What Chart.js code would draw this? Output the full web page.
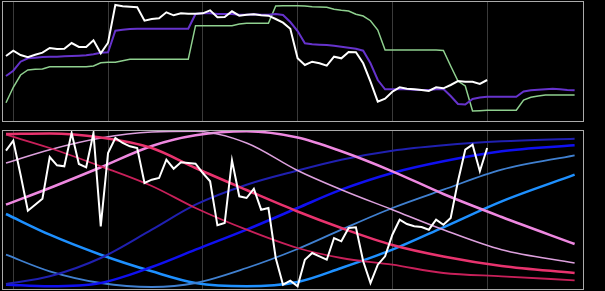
<!DOCTYPE html>
<html>
<head>
<meta charset="utf-8">
<script src="https://cdn.jsdelivr.net/npm/chart.js@4/dist/chart.umd.min.js"></script>
<style>
  html, body { margin: 0; padding: 0; background: #000; }
  body { width: 605px; height: 291px; position: relative; overflow: hidden; }
  .panel { position: absolute; left: 2px; width: 580px; border: 1px solid #aaa; }
  #top { top: 1px; height: 119px; }
  #bottom { top: 130px; height: 158px; }
  canvas { display: block; }
</style>
</head>
<body>
<div class="panel" id="top"><canvas id="topChart" width="580" height="119"></canvas></div>
<div class="panel" id="bottom"><canvas id="bottomChart" width="580" height="158"></canvas></div>
<script>
// x is the step index, gridlines every 13 steps
const gridSteps = [1, 14, 27, 40, 53, 66];
const xMin = -0.41;
const xMax = 79.15;

// top panel series
const topWhite = [65, 70.3, 66, 63.7, 66.3, 68.3, 73, 72, 72.3, 78, 74, 74, 80.7, 67.7, 78.3,
  116, 114.7, 114.3, 113.7, 100.3, 102, 102.7, 108.7, 105.7, 107.7, 107.3, 107.3, 107.7, 110.7,
  103.7, 104, 109.7, 105.3, 106.3, 106.7, 105.7, 105.3, 102, 98.3, 92.2, 62.7, 56, 59.3, 57.7,
  55.3, 64.3, 62.7, 69, 68.7, 57.7, 39.3, 19.3, 22.3, 29.3, 33.7, 32.3, 31.7, 31, 30, 33.7,
  32.7, 36, 40, 39.3, 39.3, 37, 41];
const topPurple = [45, 50.3, 59.3, 62.7, 63.3, 64, 64.3, 64.3, 64.7, 65, 65.3, 65.7, 66.7, 68.3,
  68.7, 90.3, 91.3, 92, 92.3, 92.3, 92.3, 92.3, 92.3, 92.3, 92.3, 92.3, 107, 107.7, 107.7, 107,
  107, 107, 106.3, 106.3, 106.7, 106.3, 106.3, 107, 106, 99, 90, 77.7, 76.7, 76.3, 76, 75.3,
  74.3, 73.3, 72.3, 70.3, 57.7, 41, 31.7, 31.7, 31.7, 31.7, 31.3, 31, 31, 31.7, 32, 25, 17,
  16.5, 22, 23.5, 24.2, 24.3, 24.3, 24.3, 24.3, 29.5, 30.7, 31.2, 31.8, 32.2, 31.8, 31, 30.7];
const topGreen = [18.3, 33.7, 46, 51, 51.7, 52, 54.3, 54.3, 54.3, 54.3, 54.3, 54.3, 55, 58.3,
  58.7, 58.7, 60.3, 61.7, 61.7, 61.7, 61.7, 61.7, 61.7, 61.7, 61.7, 61.7, 95.3, 95.3, 95.3,
  95.3, 95.3, 95.3, 97, 97.7, 97.7, 97.7, 97.7, 115, 115.3, 115.3, 115.3, 115, 114.3, 114,
  113.7, 111.7, 110.7, 110, 106.7, 105, 100.3, 91, 71, 71, 71, 71, 71, 71, 71, 71, 70.5, 55,
  40, 35, 10, 10.3, 10.7, 10.7, 10.7, 10.7, 10.7, 21, 23.7, 25, 26, 26, 26, 26, 26];

// bottom panel series
const bottomWhite = [138.3, 148.3, 114.3, 78.3, 84.3, 90.3, 132, 123.7, 122.7, 156, 125, 121.7,
  156, 62.7, 136, 151, 146, 142.7, 141, 106, 109.3, 111, 129.3, 120.3, 126.7, 126, 125.3, 116,
  107.7, 63.7, 66, 128.7, 92.7, 91, 100.3, 79.3, 81, 31, 4.3, 8.3, 2.7, 29.3, 36, 32.7, 29.3,
  51, 47.7, 61, 61.7, 27.7, 6, 24.3, 32.7, 54.3, 69.3, 65, 62.7, 62, 59.3, 69.3, 64.3, 71,
  107.7, 139.3, 144.3, 117.7, 141];
const curveSteps = [0, 6, 13, 20, 26, 33, 40, 46, 53, 60, 68, 78];
const crimsonThick = [155, 155.5, 151.5, 141, 121, 99, 77.5, 61, 44, 32.5, 23, 16];
const crimsonThin = [154.3, 141, 122.7, 103, 81, 59.3, 41, 31, 24.3, 16, 12.7, 8.7];
const plumThin = [126, 139.3, 151, 157, 157.7, 146, 118.5, 99.3, 79.3, 59.3, 39.3, 26];
const violetThick = [84.3, 101, 121.7, 143, 153.7, 157.7, 151.5, 137.7, 117.7, 95, 72, 45];
const navyThin = [5, 12.7, 31, 59.3, 84.3, 104.3, 118.5, 129.3, 138.3, 143.7, 147.7, 150.3];
const blueThick = [4.3, 2.7, 6, 22, 39.3, 59.3, 81, 99.3, 116, 127.7, 137.7, 143.7];
const steelThin = [34.3, 17.7, 6, 2, 6, 21, 40, 59.3, 81, 99.3, 119.3, 133.7];
const dodgerThick = [75, 54.3, 34.3, 17.7, 6, 2.7, 7, 21, 39.3, 61.7, 87.7, 114.3];

const toPoints = arr => arr.map((v, i) => ({ x: i, y: v }));
const toCurve = arr => arr.map((v, i) => ({ x: curveSteps[i], y: v }));

function xAxis() {
  return {
    type: 'linear',
    min: xMin,
    max: xMax,
    border: { display: false },
    grid: { color: '#3a3a3a', lineWidth: 1, drawTicks: false },
    ticks: { display: false },
    afterBuildTicks: axis => { axis.ticks = gridSteps.map(v => ({ value: v })); }
  };
}

function baseOptions(yMax) {
  return {
    responsive: false,
    animation: false,
    devicePixelRatio: 1,
    layout: { padding: 0 },
    plugins: { legend: { display: false }, tooltip: { enabled: false } },
    elements: { point: { radius: 0 } },
    scales: {
      x: xAxis(),
      y: { display: false, min: 0, max: yMax }
    }
  };
}

new Chart(document.getElementById('topChart'), {
  type: 'line',
  data: {
    datasets: [
      { data: toPoints(topWhite), borderColor: '#ffffff', borderWidth: 2 },
      { data: toPoints(topPurple), borderColor: '#6633cc', borderWidth: 2 },
      { data: toPoints(topGreen), borderColor: '#8fd08f', borderWidth: 1.5 }
    ]
  },
  options: baseOptions(119)
});

const smooth = { cubicInterpolationMode: 'monotone' };

new Chart(document.getElementById('bottomChart'), {
  type: 'line',
  data: {
    datasets: [
      { data: toPoints(bottomWhite), borderColor: '#ffffff', borderWidth: 2 },
      { data: toCurve(crimsonThick), borderColor: '#e8336e', borderWidth: 2.5, ...smooth },
      { data: toCurve(crimsonThin), borderColor: '#c8205a', borderWidth: 1.8, ...smooth },
      { data: toCurve(plumThin), borderColor: '#dda0dd', borderWidth: 1.5, ...smooth },
      { data: toCurve(violetThick), borderColor: '#ee88e0', borderWidth: 2.5, ...smooth },
      { data: toCurve(navyThin), borderColor: '#2020b0', borderWidth: 2, ...smooth },
      { data: toCurve(blueThick), borderColor: '#1010f0', borderWidth: 2.5, ...smooth },
      { data: toCurve(steelThin), borderColor: '#4080d0', borderWidth: 1.8, ...smooth },
      { data: toCurve(dodgerThick), borderColor: '#1e90ff', borderWidth: 2.5, ...smooth }
    ]
  },
  options: baseOptions(158)
});
</script>
</body>
</html>
